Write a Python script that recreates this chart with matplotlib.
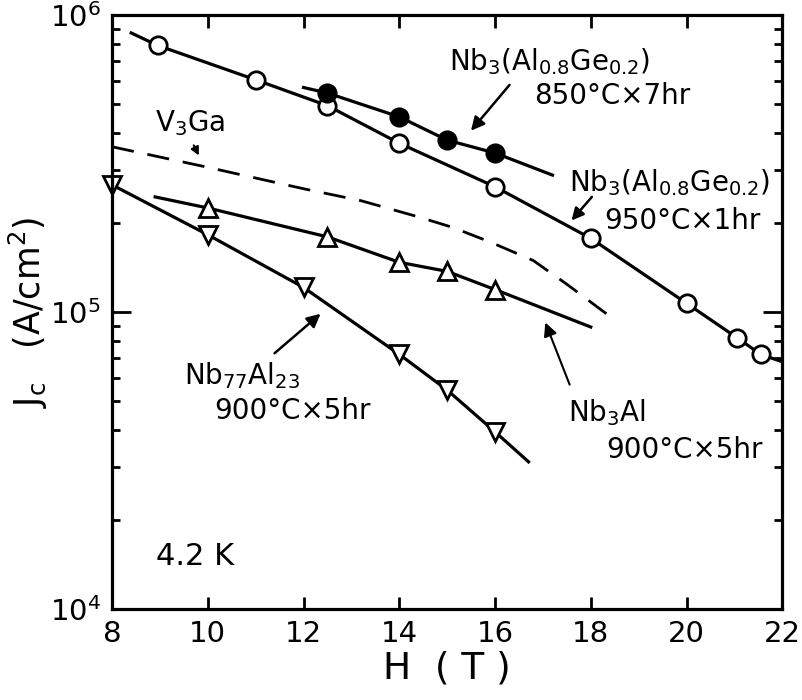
import numpy as np
import matplotlib
matplotlib.use("Agg")
import matplotlib.pyplot as plt
from matplotlib.ticker import LogLocator, NullFormatter, FixedLocator

plt.rcParams['font.family'] = ['DejaVu Sans']
plt.rcParams['mathtext.default'] = 'regular'

# Nb3(Al0.8Ge0.2) 950C x 1hr (open circles)
h_open = [8.95, 11.0, 12.5, 14.0, 16.0, 18.0, 20.0, 21.05, 21.55]
jc_open = [7.9e5, 6.05e5, 4.95e5, 3.7e5, 2.64e5, 1.77e5, 1.07e5, 8.2e4, 7.2e4]
h_open_line = [8.4, 8.95, 11.0, 12.5, 14.0, 16.0, 18.0, 20.0, 21.05, 21.55, 22.0]
jc_open_line = [8.7e5, 7.9e5, 6.05e5, 4.95e5, 3.7e5, 2.64e5, 1.77e5, 1.07e5, 8.2e4, 7.2e4, 6.8e4]

# Nb3(Al0.8Ge0.2) 850C x 7hr (filled circles)
h_fill = [12.5, 14.0, 15.0, 16.0]
jc_fill = [5.46e5, 4.54e5, 3.79e5, 3.43e5]
h_fill_line = [12.0, 12.5, 14.0, 15.0, 16.0, 17.2]
jc_fill_line = [5.7e5, 5.46e5, 4.54e5, 3.79e5, 3.43e5, 2.89e5]

# Nb3Al 900C x 5hr (up triangles)
h_up = [10.0, 12.5, 14.0, 15.0, 16.0]
jc_up = [2.24e5, 1.79e5, 1.47e5, 1.37e5, 1.19e5]
h_up_line = [8.9, 10.0, 12.5, 14.0, 15.0, 16.0, 18.0]
jc_up_line = [2.44e5, 2.24e5, 1.79e5, 1.47e5, 1.37e5, 1.19e5, 8.9e4]

# Nb77Al23 900C x 5hr (down triangles)
h_down = [8.0, 10.0, 12.0, 14.0, 15.0, 16.0]
jc_down = [2.68e5, 1.82e5, 1.21e5, 7.2e4, 5.46e4, 3.95e4]
h_down_line = [8.0, 10.0, 12.0, 14.0, 15.0, 16.0, 16.7]
jc_down_line = [2.68e5, 1.82e5, 1.21e5, 7.2e4, 5.46e4, 3.95e4, 3.13e4]

# V3Ga (dashed)
h_v3ga = [8.0, 10.0, 12.0, 13.2, 14.4, 15.1, 15.9, 16.8, 17.5, 18.35]
jc_v3ga = [3.6e5, 3.07e5, 2.6e5, 2.37e5, 2.09e5, 1.93e5, 1.72e5, 1.49e5, 1.24e5, 9.8e4]

x_ticks = [8, 10, 12, 14, 16, 18, 20, 22]

fig = plt.figure(figsize=(8.02, 7.0), dpi=100)
ax = fig.add_axes([0.1397, 0.13, 0.8357, 0.8486])
ax.set_yscale("log")
ax.set_xlim(8, 22)
ax.set_ylim(1e4, 1e6)

lw = 2.3
ms = 12.5
ax.plot(h_open_line, jc_open_line, color="black", lw=lw)
ax.plot(h_open, jc_open, "o", ms=ms, mfc="white", mec="black", mew=2, clip_on=False)
ax.plot(h_fill_line, jc_fill_line, color="black", lw=lw)
ax.plot(h_fill, jc_fill, "o", ms=ms, mfc="black", mec="black", mew=2)
ax.plot(h_up_line, jc_up_line, color="black", lw=lw)
ax.plot(h_up, jc_up, "^", ms=ms, mfc="white", mec="black", mew=2)
ax.plot(h_down_line, jc_down_line, color="black", lw=lw)
ax.plot(h_down, jc_down, "v", ms=ms, mfc="white", mec="black", mew=2, clip_on=False)
ax.plot(h_v3ga, jc_v3ga, color="black", lw=2, dashes=(8, 5))

fs = 20
ax.text(9.63, 4.33e5, "V$_3$Ga", fontsize=fs, ha="center", va="center")
ax.annotate("", xy=(9.84, 3.3e5), xytext=(9.68, 3.71e5),
            arrowprops=dict(arrowstyle="-|>", color="black", lw=1.5, mutation_scale=12))

ax.text(15.03, 6.95e5, "Nb$_3$(Al$_{0.8}$Ge$_{0.2}$)", fontsize=fs, ha="left", va="center")
ax.text(16.82, 5.34e5, "850°C×7hr", fontsize=fs, ha="left", va="center")
ax.annotate("", xy=(15.46, 4.01e5), xytext=(16.34, 5.91e5),
            arrowprops=dict(arrowstyle="-|>", color="black", lw=1.8, mutation_scale=20))

ax.text(17.54, 2.72e5, "Nb$_3$(Al$_{0.8}$Ge$_{0.2}$)", fontsize=fs, ha="left", va="center")
ax.text(18.29, 2.02e5, "950°C×1hr", fontsize=fs, ha="left", va="center")
ax.annotate("", xy=(17.56, 2.0e5), xytext=(18.06, 2.48e5),
            arrowprops=dict(arrowstyle="-|>", color="black", lw=1.8, mutation_scale=18))

ax.text(9.51, 6.1e4, "Nb$_{77}$Al$_{23}$", fontsize=fs, ha="left", va="center")
ax.text(10.14, 4.64e4, "900°C×5hr", fontsize=fs, ha="left", va="center")
ax.annotate("", xy=(12.4, 1.0e5), xytext=(11.35, 7.16e4),
            arrowprops=dict(arrowstyle="-|>", color="black", lw=1.8, mutation_scale=20))

ax.text(17.52, 4.57e4, "Nb$_3$Al", fontsize=fs, ha="left", va="center")
ax.text(18.33, 3.43e4, "900°C×5hr", fontsize=fs, ha="left", va="center")
ax.annotate("", xy=(17.03, 9.4e4), xytext=(17.58, 5.58e4),
            arrowprops=dict(arrowstyle="-|>", color="black", lw=1.5, mutation_scale=20))

ax.text(8.92, 1.5e4, "4.2 K", fontsize=22, ha="left", va="center")

ax.xaxis.set_major_locator(FixedLocator(x_ticks))
ax.yaxis.set_major_locator(LogLocator(base=10, numticks=5))
ax.yaxis.set_minor_locator(LogLocator(base=10, subs=np.arange(2, 10), numticks=20))
ax.yaxis.set_minor_formatter(NullFormatter())
ax.tick_params(axis="both", which="both", direction="in", top=True, right=True, labelsize=21, width=2)
ax.tick_params(axis="x", which="major", length=9, pad=8)
ax.tick_params(axis="y", which="major", length=14, pad=8)
ax.tick_params(axis="y", which="minor", length=6)
for sp in ax.spines.values():
    sp.set_linewidth(2.3)

ax.set_xlabel("H  ( T )", fontsize=27, labelpad=2)
ax.set_ylabel("$J_c$   (A/cm$^2$)", fontsize=25)
ax.yaxis.set_label_coords(-0.093, 0.5)

fig.savefig("out.png", dpi=100)
